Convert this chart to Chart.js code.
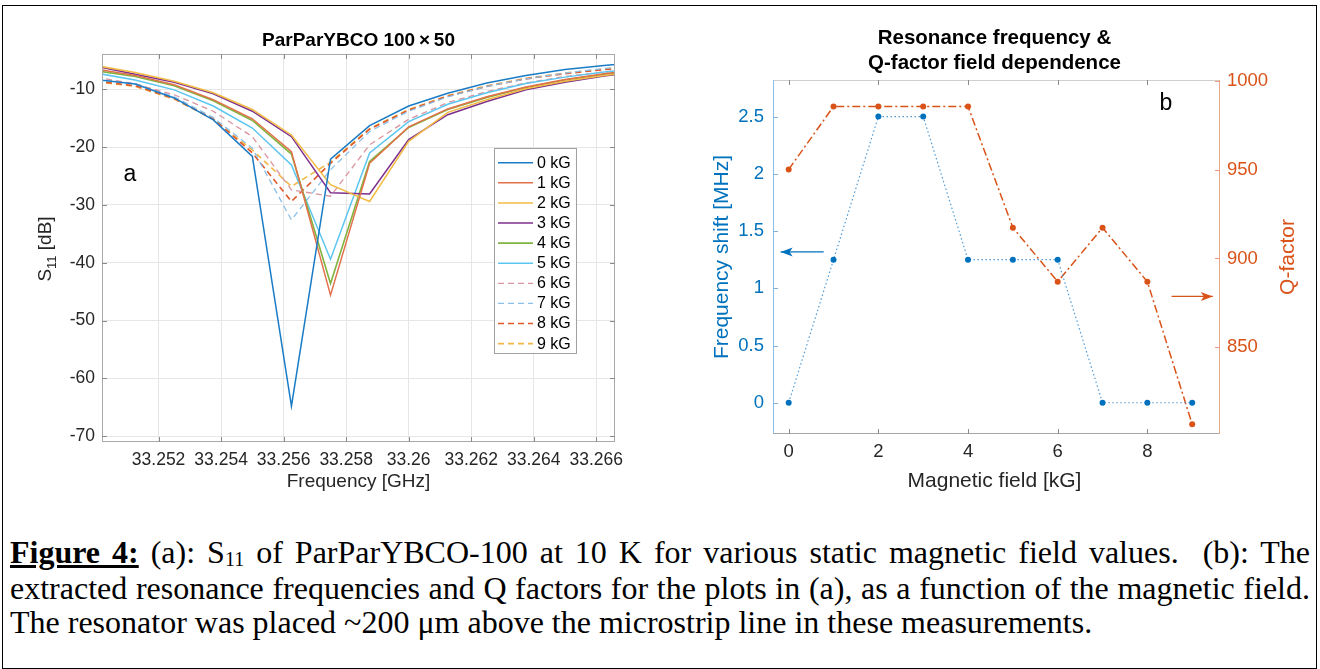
<!DOCTYPE html>
<html><head><meta charset="utf-8">
<script src="https://cdn.jsdelivr.net/npm/chart.js@4.4.0/dist/chart.umd.min.js"></script>
<style>
html,body{margin:0;padding:0;background:#fff;}
body{width:1320px;height:669px;position:relative;overflow:hidden;font-family:"Liberation Sans",Arial,sans-serif;}
#frame{position:absolute;left:2px;top:5px;width:1315px;height:664px;border:1.5px solid #000;box-sizing:border-box;}
#cA{position:absolute;left:0;top:0;}
#cB{position:absolute;left:660px;top:0;}
.cap{position:absolute;left:10px;width:1300px;font-family:"Liberation Serif","Times New Roman",serif;font-size:32px;line-height:36px;color:#000;white-space:nowrap;}
.just{text-align:justify;text-align-last:justify;white-space:normal;}
.sub{font-size:20px;position:relative;top:3px;}
</style></head>
<body>
<div id="frame"></div>
<canvas id="cA" width="660" height="500"></canvas>
<canvas id="cB" width="660" height="500"></canvas>
<div class="cap just" style="top:534px"><b style="text-decoration:underline">Figure 4:</b> (a): S<span class="sub">11</span> of ParParYBCO-100 at 10 K for various static magnetic field values.&nbsp; (b): The</div>
<div class="cap just" style="top:570px">extracted resonance frequencies and Q factors for the plots in (a), as a function of the magnetic field.</div>
<div class="cap" style="top:604px">The resonator was placed ~200 μm above the microstrip line in these measurements.</div>
<script>
// ---------- Panel (a) data ----------
const freqGHz = [33.25, 33.25125, 33.2525, 33.25375, 33.255, 33.25625, 33.2575, 33.25875, 33.26, 33.26125, 33.2625, 33.26375, 33.265, 33.26625, 33.2675];
const fieldLabels = ['0 kG','1 kG','2 kG','3 kG','4 kG','5 kG','6 kG','7 kG','8 kG','9 kG'];
const s11_0kG = [-8.3, -9.1, -11.5, -15.3, -21.6, -64.8, -22.1, -16.3, -12.9, -10.7, -8.9, -7.6, -6.6, -5.9, -5.2];
const s11_1kG = [-6.5, -7.6, -9.2, -11.8, -15.1, -20.8, -45.6, -22.8, -16.5, -13.4, -11.3, -9.6, -8.3, -7.3, -6.6];
const s11_2kG = [-5.9, -7.1, -8.6, -10.6, -13.5, -17.9, -26.5, -29.4, -19.0, -14.0, -11.8, -9.9, -8.6, -7.6, -6.9];
const s11_3kG = [-6.0, -7.4, -8.8, -10.8, -13.8, -18.2, -27.9, -28.1, -18.7, -14.4, -12.1, -10.1, -8.8, -7.7, -7.0];
const s11_4kG = [-6.8, -7.8, -9.4, -12.0, -15.4, -21.2, -43.6, -22.5, -16.6, -13.5, -11.4, -9.7, -8.4, -7.4, -6.7];
const s11_5kG = [-7.2, -8.4, -10.1, -12.9, -16.7, -23.1, -39.4, -21.0, -15.6, -12.6, -10.6, -9.0, -7.9, -7.0, -6.4];
const s11_6kG = [-7.9, -9.1, -10.95, -13.8, -18.2, -27.4, -28.5, -19.6, -15.2, -12.3, -10.4, -8.9, -7.8, -7.0, -6.4];
const s11_7kG = [-8.2, -9.0, -11.3, -14.9, -20.2, -32.6, -23.9, -17.3, -13.8, -11.3, -9.5, -8.2, -7.2, -6.4, -5.8];
const s11_8kG = [-8.6, -9.4, -11.6, -15.1, -21.0, -29.4, -22.8, -16.9, -13.6, -11.2, -9.5, -8.2, -7.3, -6.6, -6.0];
const s11_9kG = [-8.7, -9.5, -11.7, -15.2, -20.5, -26.8, -22.6, -16.8, -13.5, -11.1, -9.4, -8.1, -7.2, -6.5, -5.9];
const freqTicks = [33.252, 33.254, 33.256, 33.258, 33.26, 33.262, 33.264, 33.266];
const freqTickLabels = ['33.252','33.254','33.256','33.258','33.26','33.262','33.264','33.266'];
const dbTicks = [-70, -60, -50, -40, -30, -20, -10];
const dbTickLabels = ['-70','-60','-50','-40','-30','-20','-10'];

// ---------- Panel (b) data ----------
const fieldKG = [0, 1, 2, 3, 4, 5, 6, 7, 8, 9];
const freqShiftMHz = [0, 1.25, 2.5, 2.5, 1.25, 1.25, 1.25, 0, 0, 0];
const qFactor = [950.1, 985.5, 985.5, 985.5, 985.5, 917.3, 886.9, 917.3, 886.9, 806.7];
const fieldTicks = [0, 2, 4, 6, 8];
const fieldTickLabels = ['0','2','4','6','8'];
const shiftTicks = [0, 0.5, 1, 1.5, 2, 2.5];
const shiftTickLabels = ['0','0.5','1','1.5','2','2.5'];
const qTicks = [850, 900, 950, 1000];
const qTickLabels = ['850','900','950','1000'];

// ---------- styles ----------
const seriesA = [s11_0kG, s11_1kG, s11_2kG, s11_3kG, s11_4kG, s11_5kG, s11_6kG, s11_7kG, s11_8kG, s11_9kG];
const colorsA = ['#1a7cc6','#e2714a','#f2bb45','#7e2f8e','#80b440','#5cc6f0','#d9949f','#8cc0e8','#e0582a','#f2b646'];
const widthsA = [1.5,1.5,1.5,1.5,1.6,1.5,1.3,1.3,1.6,1.6];
const dashesA = [[],[],[],[],[],[],[6,4],[6,4],[6,4],[6,4]];

const FONT = '"Liberation Sans", Arial, sans-serif';
const f = (size, weight) => `${weight || 'normal'} ${size}px ${FONT}`;

function rotText(ctx, text, cx, cy, font, color){
  ctx.save(); ctx.translate(cx, cy); ctx.rotate(-Math.PI/2);
  ctx.font = font; ctx.fillStyle = color; ctx.textAlign='center'; ctx.textBaseline='middle';
  ctx.fillText(text, 0, 0); ctx.restore();
}

const leftDecor = {
  id: 'leftDecor',
  afterDatasetsDraw(chart){
    const {ctx, chartArea:a, scales:{x, y}} = chart;
    ctx.save();
    ctx.strokeStyle = '#a8a8a8'; ctx.lineWidth = 1;
    ctx.strokeRect(a.left + 0.5, a.top + 0.5, a.right - a.left - 1, a.bottom - a.top - 1);
    ctx.beginPath(); ctx.strokeStyle = '#8a8a8a';
    freqTicks.forEach(v => { const p = Math.round(x.getPixelForValue(v)) + 0.5;
      ctx.moveTo(p, a.bottom); ctx.lineTo(p, a.bottom - 5); ctx.moveTo(p, a.top); ctx.lineTo(p, a.top + 5); });
    dbTicks.forEach(v => { const p = Math.round(y.getPixelForValue(v)) + 0.5;
      ctx.moveTo(a.left, p); ctx.lineTo(a.left + 5, p); ctx.moveTo(a.right, p); ctx.lineTo(a.right - 5, p); });
    ctx.stroke();
    // legend
    const lx = 494.5, ly = 148.5, lw = 82, lh = 205;
    ctx.fillStyle = '#fff'; ctx.fillRect(lx, ly, lw, lh);
    ctx.strokeStyle = '#a0a0a0'; ctx.lineWidth = 1; ctx.strokeRect(lx, ly, lw, lh);
    chart.data.datasets.forEach((ds, i) => {
      const yy = 162.7 + i * 20.1;
      ctx.beginPath(); ctx.setLineDash(ds.borderDash || []); ctx.strokeStyle = ds.borderColor; ctx.lineWidth = ds.borderWidth;
      ctx.moveTo(498, yy); ctx.lineTo(533, yy); ctx.stroke(); ctx.setLineDash([]);
      ctx.fillStyle = '#000'; ctx.font = f(16); ctx.textAlign = 'left'; ctx.textBaseline = 'middle';
      ctx.fillText(ds.label, 537, yy + 0.5);
    });
    // panel letter
    ctx.fillStyle = '#000'; ctx.font = f(23); ctx.textAlign = 'center'; ctx.textBaseline = 'middle';
    ctx.fillText('a', 130, 175);
    // title
    ctx.font = f(19, 'bold'); ctx.fillText('ParParYBCO 100\u2009×\u200950', (a.left + a.right) / 2, 41);
    // x title
    ctx.font = f(19); ctx.fillStyle = '#262626'; ctx.fillText('Frequency [GHz]', (a.left + a.right) / 2, 482);
    // y title with subscript
    ctx.save(); ctx.translate(44, 249); ctx.rotate(-Math.PI/2);
    ctx.fillStyle = '#262626'; ctx.textBaseline = 'alphabetic'; ctx.textAlign = 'left';
    ctx.font = f(19); const wS = ctx.measureText('S').width;
    ctx.font = f(13); const w11 = ctx.measureText('11').width;
    ctx.font = f(19); const wR = ctx.measureText(' [dB]').width;
    let x0 = -(wS + w11 + wR) / 2;
    ctx.font = f(19); ctx.fillText('S', x0, 7);
    ctx.font = f(13); ctx.fillText('11', x0 + wS, 12);
    ctx.font = f(19); ctx.fillText(' [dB]', x0 + wS + w11, 7);
    ctx.restore();
    ctx.restore();
  }
};

new Chart(document.getElementById('cA'), {
  type: 'line',
  data: { datasets: seriesA.map((s, i) => ({
    label: fieldLabels[i],
    data: freqGHz.map((fr, j) => ({x: fr, y: s[j]})),
    borderColor: colorsA[i], backgroundColor: colorsA[i], borderWidth: widthsA[i], borderDash: dashesA[i],
    pointRadius: 0, fill: false, tension: 0
  })) },
  options: {
    responsive: false, animation: false, events: [],
    layout: { padding: { left: 0, right: 45, top: 54, bottom: 0 } },
    plugins: { legend: { display: false }, tooltip: { enabled: false }, title: { display: false } },
    scales: {
      x: { type: 'linear', min: 33.25019, max: 33.2666,
        afterFit(s){ s.height = 58; },
        afterBuildTicks(s){ s.ticks = freqTicks.map(v => ({value: v})); },
        ticks: { callback: (v, i) => freqTickLabels[i], font: {size: 17.5, family: FONT}, color: '#262626', padding: 8, maxRotation: 0, autoSkip: false },
        grid: { color: '#e6e6e6', drawTicks: false }, border: { display: false } },
      y: { type: 'linear', min: -71, max: -3.9,
        afterFit(s){ s.width = 102; },
        afterBuildTicks(s){ s.ticks = dbTicks.map(v => ({value: v})); },
        ticks: { callback: (v, i) => dbTickLabels[i], font: {size: 17.5, family: FONT}, color: '#262626', padding: 7, autoSkip: false },
        grid: { color: '#e6e6e6', drawTicks: false }, border: { display: false } }
    }
  },
  plugins: [leftDecor]
});

// ---------- Panel (b) ----------
const BLUE = '#0072BD', ORANGE = '#D95319';
function arrow(ctx, x1, y1, x2, y2, color){
  ctx.save(); ctx.strokeStyle = color; ctx.fillStyle = color; ctx.lineWidth = 1.2;
  ctx.beginPath(); ctx.moveTo(x1, y1); ctx.lineTo(x2, y2); ctx.stroke();
  const dir = Math.sign(x2 - x1);
  ctx.beginPath(); ctx.moveTo(x2, y2); ctx.lineTo(x2 - dir * 12, y2 - 4.5); ctx.lineTo(x2 - dir * 9, y2); ctx.lineTo(x2 - dir * 12, y2 + 4.5); ctx.closePath(); ctx.fill();
  ctx.restore();
}
const rightDecor = {
  id: 'rightDecor',
  afterDatasetsDraw(chart){
    const {ctx, chartArea:a, scales:{x, y, y1}} = chart;
    ctx.save();
    ctx.lineWidth = 1;
    ctx.strokeStyle = '#cfcfcf'; ctx.beginPath(); ctx.moveTo(a.left, a.top + 0.5); ctx.lineTo(a.right, a.top + 0.5); ctx.stroke();
    ctx.strokeStyle = '#a6a6a6'; ctx.beginPath(); ctx.moveTo(a.left, a.bottom - 0.5); ctx.lineTo(a.right, a.bottom - 0.5); ctx.stroke();
    ctx.strokeStyle = '#8dbfe6'; ctx.beginPath(); ctx.moveTo(a.left + 0.5, a.top); ctx.lineTo(a.left + 0.5, a.bottom); ctx.stroke();
    ctx.strokeStyle = '#eea689'; ctx.beginPath(); ctx.moveTo(a.right - 0.5, a.top); ctx.lineTo(a.right - 0.5, a.bottom); ctx.stroke();
    ctx.strokeStyle = '#8a8a8a'; ctx.beginPath();
    fieldTicks.forEach(v => { const p = Math.round(x.getPixelForValue(v)) + 0.5;
      ctx.moveTo(p, a.bottom); ctx.lineTo(p, a.bottom - 5); ctx.moveTo(p, a.top); ctx.lineTo(p, a.top + 5); });
    ctx.stroke();
    ctx.strokeStyle = '#7fb4e0'; ctx.beginPath();
    shiftTicks.forEach(v => { const p = Math.round(y.getPixelForValue(v)) + 0.5; ctx.moveTo(a.left, p); ctx.lineTo(a.left + 5, p); });
    ctx.stroke();
    ctx.strokeStyle = '#eb9c7c'; ctx.beginPath();
    qTicks.forEach(v => { const p = Math.round(y1.getPixelForValue(v)) + 0.5; ctx.moveTo(a.right, p); ctx.lineTo(a.right - 5, p); });
    ctx.stroke();
    // arrows
    arrow(ctx, x.getPixelForValue(0.78), y.getPixelForValue(1.318), x.getPixelForValue(-0.18), y.getPixelForValue(1.318), BLUE);
    arrow(ctx, x.getPixelForValue(8.54), y1.getPixelForValue(878.6), x.getPixelForValue(9.46), y1.getPixelForValue(878.6), ORANGE);
    // texts
    ctx.fillStyle = '#000'; ctx.textAlign = 'center'; ctx.textBaseline = 'middle';
    ctx.font = f(23); ctx.fillText('b', 506, 104);
    const cx = (a.left + a.right) / 2;
    ctx.font = f(20.5, 'bold'); ctx.fillText('Resonance frequency &', cx - 2, 38); ctx.fillText('Q-factor field dependence', cx - 2, 63);
    ctx.font = f(21); ctx.fillStyle = '#262626'; ctx.fillText('Magnetic field [kG]', cx - 2, 481);
    rotText(ctx, 'Frequency shift [MHz]', 62, 257, f(21), BLUE);
    rotText(ctx, 'Q-factor', 628, 257, f(21), ORANGE);
    ctx.restore();
  }
};

new Chart(document.getElementById('cB'), {
  type: 'line',
  data: { datasets: [
    { label: 'Frequency shift', yAxisID: 'y',
      data: fieldKG.map((v, i) => ({x: v, y: freqShiftMHz[i]})),
      borderColor: '#4d9ad6', borderWidth: 1.2, borderDash: [1.5, 2.5],
      pointRadius: 3, pointBorderWidth: 0, pointBackgroundColor: BLUE, fill: false, tension: 0 },
    { label: 'Q-factor', yAxisID: 'y1',
      data: fieldKG.map((v, i) => ({x: v, y: qFactor[i]})),
      borderColor: ORANGE, borderWidth: 1.5, borderDash: [8, 3, 2, 3],
      pointRadius: 3, pointBorderWidth: 0, pointBackgroundColor: ORANGE, fill: false, tension: 0 }
  ] },
  options: {
    responsive: false, animation: false, events: [],
    layout: { padding: { left: 0, right: 0, top: 80, bottom: 0 } },
    plugins: { legend: { display: false }, tooltip: { enabled: false }, title: { display: false } },
    scales: {
      x: { type: 'linear', min: -0.35, max: 9.62,
        afterFit(s){ s.height = 66; },
        afterBuildTicks(s){ s.ticks = fieldTicks.map(v => ({value: v})); },
        ticks: { callback: (v, i) => fieldTickLabels[i], font: {size: 18.5, family: FONT}, color: '#262626', padding: 7, maxRotation: 0, autoSkip: false },
        grid: { display: false, drawTicks: false }, border: { display: false } },
      y: { type: 'linear', position: 'left', min: -0.273, max: 2.82,
        afterFit(s){ s.width = 113; },
        afterBuildTicks(s){ s.ticks = shiftTicks.map(v => ({value: v})); },
        ticks: { callback: (v, i) => shiftTickLabels[i], font: {size: 18.5, family: FONT}, color: BLUE, padding: 9, autoSkip: false },
        grid: { display: false, drawTicks: false }, border: { display: false } },
      y1: { type: 'linear', position: 'right', min: 801.2, max: 1000.4,
        afterFit(s){ s.width = 100; },
        afterBuildTicks(s){ s.ticks = qTicks.map(v => ({value: v})); },
        ticks: { callback: (v, i) => qTickLabels[i], font: {size: 18.5, family: FONT}, color: ORANGE, padding: 7, autoSkip: false },
        grid: { display: false, drawTicks: false }, border: { display: false } }
    }
  },
  plugins: [rightDecor]
});
</script>
</body></html>
